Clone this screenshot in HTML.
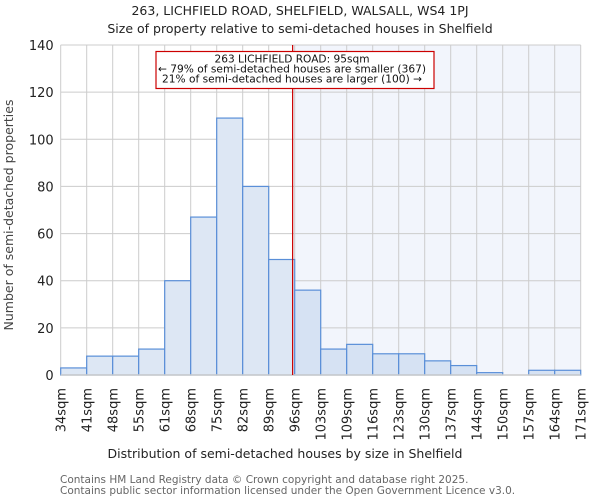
<!DOCTYPE html>
<html><head><meta charset="utf-8">
<style>
body{margin:0;background:#fff;}
svg{display:block;font-family:"DejaVu Sans","Liberation Sans",sans-serif;}
</style></head>
<body>
<svg id="chart" width="600" height="500">
<text x="300" y="15" text-anchor="middle" font-size="12.5" fill="#222">263, LICHFIELD ROAD, SHELFIELD, WALSALL, WS4 1PJ</text>
<text x="300" y="33" text-anchor="middle" font-size="12.5" fill="#222">Size of property relative to semi-detached houses in Shelfield</text>
<g id="plot"></g>
<text x="285" y="458" text-anchor="middle" font-size="12.5" fill="#222">Distribution of semi-detached houses by size in Shelfield</text>
<text transform="translate(13,215) rotate(-90)" text-anchor="middle" font-size="12.5" fill="#444">Number of semi-detached properties</text>
<text x="60" y="483" font-size="10.5" fill="#666">Contains HM Land Registry data © Crown copyright and database right 2025.</text>
<text x="60" y="494" font-size="10.5" fill="#666">Contains public sector information licensed under the Open Government Licence v3.0.</text>
</svg>
<script>
const categories=["34sqm","41sqm","48sqm","55sqm","61sqm","68sqm","75sqm","82sqm","89sqm","96sqm","103sqm","109sqm","116sqm","123sqm","130sqm","137sqm","144sqm","150sqm","157sqm","164sqm","171sqm"];
const counts=[3,8,8,11,40,67,109,80,49,36,11,13,9,9,6,4,1,0,2,2];
const yTicks=[0,20,40,60,80,100,120,140];
const markerBin=8.92;
const NS="http://www.w3.org/2000/svg";
const g=document.getElementById('plot');
const L=60.7,R=580.7,T=45,B=375,yMax=140;
const nb=counts.length;
const xs=i=>L+(R-L)*i/nb;
const ys=v=>B-(B-T)*v/yMax;
function mk(t,a){const e=document.createElementNS(NS,t);for(const k in a)e.setAttribute(k,a[k]);g.appendChild(e);return e;}
const mx=xs(markerBin);
let e=mk('rect',{x:mx,y:T,width:R-mx,height:B-T,fill:'#f2f5fc'});


yTicks.forEach(v=>{
 let l=mk('line',{x1:L,x2:R,y1:ys(v),y2:ys(v),stroke:'#ccc','stroke-width':1});
 
 
 let t=mk('text',{x:L-7,y:ys(v)+5,'text-anchor':'end','font-size':13,fill:'#222'});
 t.textContent=v;
 
 
});
categories.forEach((c,i)=>{
 let l=mk('line',{x1:xs(i),x2:xs(i),y1:T,y2:B,stroke:'#ccc','stroke-width':1});
 
 
 let t=mk('text',{transform:`translate(${xs(i)+5},388) rotate(-90)`,'text-anchor':'end','font-size':13,fill:'#222'});
 t.textContent=c;
 
 
});
counts.forEach((v,i)=>{
 let r=mk('rect',{x:xs(i),y:ys(v),width:xs(i+1)-xs(i),height:B-ys(v),fill:i>=9?'#d6e2f3':'#dde7f4',stroke:'#5a8fd8','stroke-width':1.2});
 
 
});
e=mk('line',{x1:L,x2:R,y1:B,y2:B,stroke:'#ccc','stroke-width':1.5});


e=mk('line',{x1:mx,x2:mx,y1:T,y2:B,stroke:'#cc0000','stroke-width':1.2});


e=mk('rect',{x:156,y:51.5,width:278,height:37,fill:'#fff',stroke:'#cc0000','stroke-width':1.2});


const annLines=["263 LICHFIELD ROAD: 95sqm","← 79% of semi-detached houses are smaller (367)","21% of semi-detached houses are larger (100) →"];
const annLens=[155,268,260];
annLines.forEach((s,i)=>{
 let t=mk('text',{x:292,y:62.5+i*10,'text-anchor':'middle','font-size':10.5,fill:'#111',textLength:annLens[i],lengthAdjust:'spacingAndGlyphs'});
 t.textContent=s;
 
 
});
</script>
</body></html>
